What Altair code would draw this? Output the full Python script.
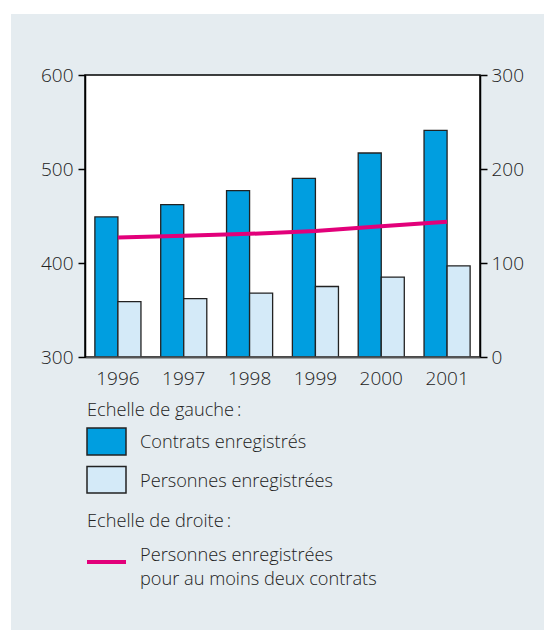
import altair as alt
import pandas as pd

# Annual registration figures
years = ["1996", "1997", "1998", "1999", "2000", "2001"]
contrats = [449, 462, 477, 490, 517, 541]          # left scale
personnes = [359, 362, 368, 375, 385, 397]         # left scale
personnes_multi = [127, 129, 131, 134, 139, 144]   # right scale

serie_labels = ["Contrats enregistrés", "Personnes enregistrées"]
line_label_lines = ["Personnes enregistrées", "pour au moins deux contrats"]
heading_left = "Echelle de gauche\u2009:"
heading_right = "Echelle de droite\u2009:"

left_ticks = [300, 400, 500, 600]
right_ticks = [0, 100, 200, 300]

DARK = "#009EE0"
LIGHT = "#D4EAF8"
PINK = "#E2007A"
PANEL = "#E5ECF0"
INK = "#222222"
FONT = "Open Sans"
WEIGHT = 300

W, H = 395, 282
PAD_L, PAD_T, PAD_R, PAD_B = 85, 75, 64, 273

bar_df = pd.DataFrame({
    "annee": years * 2,
    "serie": [serie_labels[0]] * len(years) + [serie_labels[1]] * len(years),
    "valeur": contrats + personnes,
})
line_df = pd.DataFrame({"annee": years, "valeur": personnes_multi})
one_row = pd.DataFrame({"k": [0]})

# Light panel behind the whole figure
panel = alt.Chart(one_row).mark_rect(fill=PANEL).encode(
    x=alt.value(11 - PAD_L), x2=alt.value(544 - PAD_L),
    y=alt.value(14 - PAD_T), y2=alt.value(630 - PAD_T),
)

# White plotting frame
frame = alt.Chart(one_row).mark_rect(fill="white", stroke="black", strokeWidth=1.5).encode(
    x=alt.value(0), x2=alt.value(W), y=alt.value(0), y2=alt.value(H),
)

x_axis = alt.Axis(
    title=None, labelAngle=0, ticks=False, domainColor="#555555", domainWidth=2,
    labelFontSize=19, labelColor=INK, labelPadding=12, labelFont=FONT,
    labelFontWeight=WEIGHT, zindex=1,
)


def y_axis(orient, values, pad):
    return alt.Axis(orient=orient, values=values, title=None, grid=False,
                    domainColor="black", domainWidth=1.5, tickColor="black",
                    tickWidth=1.5, tickSize=7, labelFontSize=19, labelColor=INK,
                    labelPadding=pad, labelFont=FONT, labelFontWeight=WEIGHT, zindex=1)


bars = alt.Chart(bar_df).mark_bar(stroke=INK, strokeWidth=1.3).encode(
    x=alt.X("annee:N", sort=years, axis=x_axis,
            scale=alt.Scale(paddingInner=0.3, paddingOuter=0.15)),
    xOffset=alt.XOffset("serie:N", sort=serie_labels),
    y=alt.Y("valeur:Q",
            scale=alt.Scale(domain=[300, 600], zero=False, nice=False),
            axis=y_axis("left", left_ticks, 5)),
    y2=alt.datum(300),
    fill=alt.Fill("serie:N", scale=alt.Scale(domain=serie_labels, range=[DARK, LIGHT]),
                  legend=None),
)

line = alt.Chart(line_df).mark_line(color=PINK, strokeWidth=4).encode(
    x=alt.X("annee:N", sort=years, axis=x_axis),
    y=alt.Y("valeur:Q",
            scale=alt.Scale(domain=[0, 300], nice=False),
            axis=y_axis("right", right_ticks, 4)),
)


def label(text, x, y):
    return alt.Chart(one_row).mark_text(
        align="left", baseline="alphabetic", fontSize=18.2, color=INK, font=FONT,
        fontWeight=WEIGHT,
    ).encode(x=alt.value(x), y=alt.value(y), text=alt.value(text))


# Hand-built key below the plot
key_dark = alt.Chart(one_row).mark_rect(fill=DARK, stroke=INK, strokeWidth=1.5).encode(
    x=alt.value(2), x2=alt.value(41), y=alt.value(353), y2=alt.value(380))
key_light = alt.Chart(one_row).mark_rect(fill=LIGHT, stroke=INK, strokeWidth=1.5).encode(
    x=alt.value(2), x2=alt.value(41), y=alt.value(391.5), y2=alt.value(418))
key_line = alt.Chart(one_row).mark_rule(color=PINK, strokeWidth=4).encode(
    x=alt.value(2), x2=alt.value(41), y=alt.value(487))

texts = [
    label(heading_left, 2, 340.5),
    label(serie_labels[0], 55, 372.5),
    label(serie_labels[1], 55, 412),
    label(heading_right, 2, 452),
    label(line_label_lines[0], 55, 486),
    label(line_label_lines[1], 55, 509.5),
]

chart = alt.layer(
    panel, frame, bars, line, key_dark, key_light, key_line, *texts
).resolve_scale(
    y="independent"
).properties(
    width=W, height=H,
    autosize=alt.AutoSizeParams(type="none"),
    padding={"left": PAD_L, "top": PAD_T, "right": PAD_R, "bottom": PAD_B},
    background="white",
).configure_view(stroke=None)

chart.save("out.html", embed_options={"renderer": "svg", "actions": False})
